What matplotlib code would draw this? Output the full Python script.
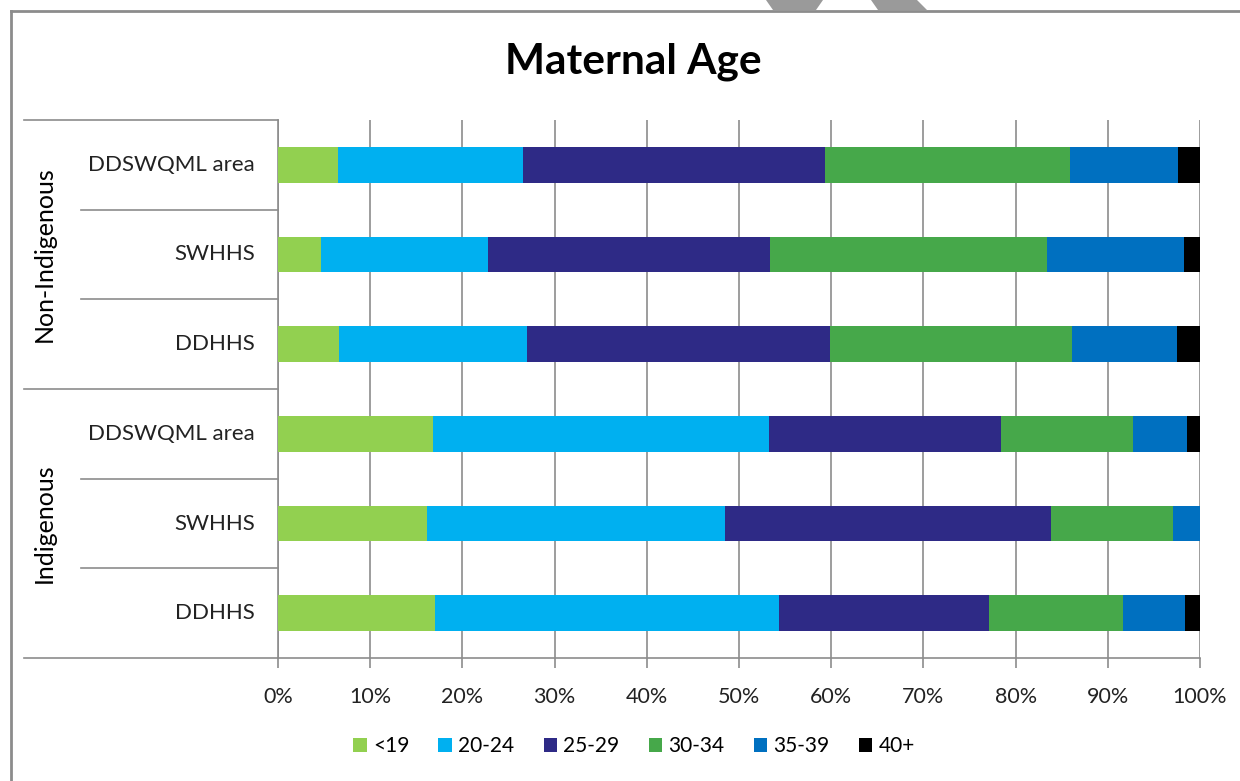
import matplotlib.pyplot as plt
from matplotlib.patches import Polygon
from matplotlib.lines import Line2D

plt.rcParams['font.family'] = ['Lato', 'DejaVu Sans']

# rows from bottom to top
regions = ["DDHHS", "SWHHS", "DDSWQML area", "DDHHS", "SWHHS", "DDSWQML area"]
groups = ["Indigenous", "Non-Indigenous"]
age_bands = ["<19", "20-24", "25-29", "30-34", "35-39", "40+"]
colors = ["#92D050", "#00B0F0", "#2E2A86", "#46A84A", "#0070C0", "#000000"]

# percent shares per row (bottom to top)
under19 = [17.0, 16.2, 16.8, 6.6, 4.7, 6.5]
a20_24 = [37.3, 32.3, 36.5, 20.4, 18.1, 20.1]
a25_29 = [22.8, 35.3, 25.1, 32.9, 30.6, 32.7]
a30_34 = [14.5, 13.3, 14.3, 26.2, 30.0, 26.6]
a35_39 = [6.8, 2.9, 5.9, 11.4, 14.9, 11.7]
a40plus = [1.6, 0.0, 1.4, 2.5, 1.7, 2.4]
shares = [under19, a20_24, a25_29, a30_34, a35_39, a40plus]

W, H = 1240, 781
fig = plt.figure(figsize=(W / 100, H / 100), dpi=100)
ax = fig.add_axes([278 / W, 1 - 658 / H, 922 / W, 538 / H])

ypos = list(range(len(regions)))
left = [0.0] * len(regions)
for band, vals, c in zip(age_bands, shares, colors):
    ax.barh(ypos, vals, left=left, height=0.4, color=c, label=band, zorder=3)
    left = [l + v for l, v in zip(left, vals)]

ax.set_xlim(0, 100)
ax.set_ylim(-0.5, len(regions) - 0.5)
ax.set_xticks(range(0, 101, 10))
ax.set_xticklabels([f"{t}%" for t in range(0, 101, 10)], fontsize=15.5, color="#222222")
ax.set_yticks([])
ax.grid(axis="x", color="#8c8c8c", linewidth=1.2, zorder=0)
ax.tick_params(axis="x", length=7, color="#8c8c8c", width=1.2, pad=14)
for s in ["top", "right"]:
    ax.spines[s].set_visible(False)
for s in ["left", "bottom"]:
    ax.spines[s].set_color("#8c8c8c")
    ax.spines[s].set_linewidth(1.2)

# category labels and separators in the label column
tr = ax.get_yaxis_transform()
for y, name in zip(ypos, regions):
    ax.text(-0.025, y, name, transform=tr, ha="right", va="center",
            fontsize=16, color="#222222")
for y in [0.5, 1.5, 3.5, 4.5]:
    ax.add_line(Line2D([-0.2137, 0], [y, y], transform=tr, color="#8c8c8c",
                       linewidth=1.2, clip_on=False))
for y in [-0.5, 2.5, 5.5]:
    ax.add_line(Line2D([-0.2755, 0], [y, y], transform=tr, color="#8c8c8c",
                       linewidth=1.2, clip_on=False))
for gi, g in enumerate(groups):
    ax.text(-0.253, 1 + 3 * gi, g, transform=tr, rotation=90, ha="center",
            va="center", fontsize=18, color="#000000")

fig.text(633 / W, 1 - 62 / H, "Maternal Age", ha="center", va="center",
         fontsize=30.5, fontweight="bold")

fig.legend(loc="center", bbox_to_anchor=(634 / W, 1 - 746 / H), ncol=6,
           frameon=False, fontsize=15, handlelength=0.65, handleheight=0.65,
           handletextpad=0.3, columnspacing=1.4)

# outer chart frame and clipped shapes at the top edge
fig.add_artist(Line2D([11 / W, 11 / W], [0, 1 - 11 / H], transform=fig.transFigure,
                      color="#8c8c8c", linewidth=2))
fig.add_artist(Line2D([11 / W, 1], [1 - 11 / H, 1 - 11 / H], transform=fig.transFigure,
                      color="#8c8c8c", linewidth=2))
for pts in [[(766, 0), (823, 0), (816, 10), (773, 10)],
            [(871, 0), (917, 0), (927, 10), (878, 10)]]:
    fig.add_artist(Polygon([(x / W, 1 - y / H) for x, y in pts], closed=True,
                           transform=fig.transFigure, color="#9a9a9a", lw=0))

fig.savefig("out.png", dpi=100)
